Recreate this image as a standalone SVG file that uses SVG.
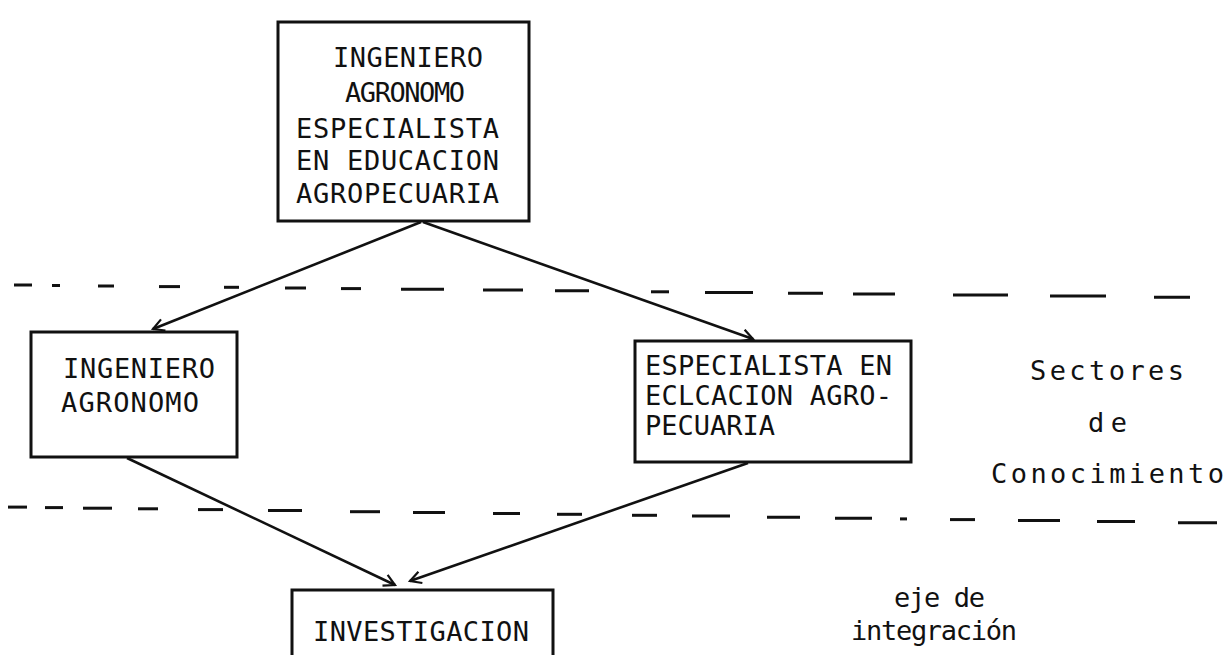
<svg xmlns="http://www.w3.org/2000/svg" width="1225" height="655" viewBox="0 0 1225 655">
<style>
.box{fill:none;stroke:#111;stroke-width:3}
.t{font-family:"DejaVu Sans Mono","Liberation Mono",monospace;font-size:27px;fill:#111}
.c{stroke:#111;stroke-width:2.6;fill:none}
.d{stroke:#111;stroke-width:3;stroke-linecap:butt}
</style>
<defs>
<marker id="ah" markerUnits="userSpaceOnUse" markerWidth="16" markerHeight="16" refX="12" refY="7" orient="auto">
<path d="M1,1 L12,7 L1,13" fill="none" stroke="#111" stroke-width="2.2"/>
</marker>
</defs>
<rect width="1225" height="655" fill="#fff"/>
<g id="separators">
<line class="d" x1="14" y1="285" x2="32" y2="285"/>
<line class="d" x1="52" y1="285.5" x2="60" y2="285.5"/>
<line class="d" x1="98" y1="286" x2="114" y2="286"/>
<line class="d" x1="159" y1="286.6" x2="180" y2="286.6"/>
<line class="d" x1="224" y1="287.3" x2="239" y2="287.3"/>
<line class="d" x1="285" y1="288" x2="306" y2="288"/>
<line class="d" x1="341" y1="288.6" x2="361" y2="288.6"/>
<line class="d" x1="401" y1="289.3" x2="444" y2="289.3"/>
<line class="d" x1="483" y1="290.1" x2="523" y2="290.1"/>
<line class="d" x1="555" y1="290.8" x2="589" y2="290.8"/>
<line class="d" x1="651" y1="291.8" x2="669" y2="291.8"/>
<line class="d" x1="705" y1="292.5" x2="753" y2="292.5"/>
<line class="d" x1="788" y1="293.3" x2="823" y2="293.3"/>
<line class="d" x1="853" y1="294.1" x2="895" y2="294.1"/>
<line class="d" x1="953" y1="295.1" x2="1008" y2="295.1"/>
<line class="d" x1="1050" y1="296.1" x2="1106" y2="296.1"/>
<line class="d" x1="1154" y1="297.2" x2="1190" y2="297.2"/>
<line class="d" x1="8" y1="507.1" x2="27" y2="507.1"/>
<line class="d" x1="45" y1="507.6" x2="63" y2="507.6"/>
<line class="d" x1="83" y1="508.2" x2="112" y2="508.2"/>
<line class="d" x1="138" y1="508.8" x2="158" y2="508.8"/>
<line class="d" x1="198" y1="509.6" x2="223" y2="509.6"/>
<line class="d" x1="268" y1="510.6" x2="302" y2="510.6"/>
<line class="d" x1="350" y1="511.7" x2="380" y2="511.7"/>
<line class="d" x1="413" y1="512.5" x2="445" y2="512.5"/>
<line class="d" x1="493" y1="513.5" x2="520" y2="513.5"/>
<line class="d" x1="557" y1="514.3" x2="582" y2="514.3"/>
<line class="d" x1="632" y1="515.3" x2="657" y2="515.3"/>
<line class="d" x1="692" y1="516.1" x2="730" y2="516.1"/>
<line class="d" x1="767" y1="517.2" x2="800" y2="517.2"/>
<line class="d" x1="835" y1="518.2" x2="872" y2="518.2"/>
<line class="d" x1="900" y1="518.9" x2="907" y2="518.9"/>
<line class="d" x1="950" y1="519.6" x2="975" y2="519.6"/>
<line class="d" x1="1018" y1="520.6" x2="1060" y2="520.6"/>
<line class="d" x1="1097" y1="521.6" x2="1135" y2="521.6"/>
<line class="d" x1="1178" y1="522.7" x2="1217" y2="522.7"/>
</g>
<g id="connectors">
<line class="c" x1="421" y1="222" x2="153" y2="329" marker-end="url(#ah)"/>
<line class="c" x1="423" y1="222" x2="753" y2="339" marker-end="url(#ah)"/>
<line class="c" x1="127" y1="458" x2="395" y2="585" marker-end="url(#ah)"/>
<line class="c" x1="748" y1="463" x2="410" y2="581" marker-end="url(#ah)"/>
</g>
<g id="node-ing-agr-esp">
<rect class="box" x="278" y="22" width="251" height="199"/>
<text class="t" x="333" y="67" textLength="150">INGENIERO</text>
<text class="t" x="345" y="102" textLength="120">AGRONOMO</text>
<text class="t" x="296" y="138" textLength="203">ESPECIALISTA</text>
<text class="t" x="296" y="170" textLength="203">EN EDUCACION</text>
<text class="t" x="296" y="203" textLength="203">AGROPECUARIA</text>
</g>
<g id="node-ing-agr">
<rect class="box" x="31" y="332" width="206" height="125"/>
<text class="t" x="63" y="378" textLength="152">INGENIERO</text>
<text class="t" x="61" y="412" textLength="138">AGRONOMO</text>
</g>
<g id="node-esp-edu">
<rect class="box" x="635" y="341" width="276" height="121"/>
<text class="t" x="645" y="375" textLength="247">ESPECIALISTA EN</text>
<text class="t" x="645" y="405" textLength="247">ECLCACION AGRO-</text>
<text class="t" x="645" y="435" textLength="130">PECUARIA</text>
</g>
<g id="node-investigacion">
<rect class="box" x="292" y="590" width="261" height="70"/>
<text class="t" x="313" y="641" textLength="216">INVESTIGACION</text>
</g>
<g id="labels">
<text class="t" x="1030" y="380" textLength="154">Sectores</text>
<text class="t" x="1088" y="432" textLength="39">de</text>
<text class="t" x="991" y="483" textLength="233">Conocimiento</text>
<text class="t" x="894" y="607" textLength="91">eje de</text>
<text class="t" x="851" y="640" textLength="166">integración</text>
</g>
</svg>
